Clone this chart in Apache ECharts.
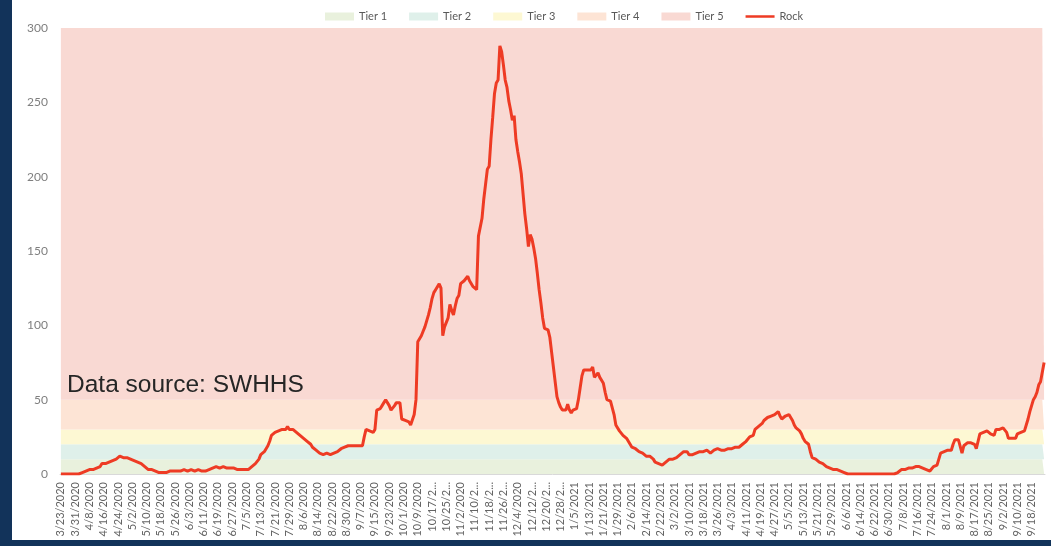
<!DOCTYPE html>
<html>
<head>
<meta charset="utf-8">
<script src="https://cdn.jsdelivr.net/npm/echarts@6/dist/echarts.min.js"></script>
<style>
  html, body { margin: 0; padding: 0; width: 1051px; height: 546px; background: #12335a; overflow: hidden; }
  #chart { position: absolute; left: 12px; top: 0; width: 1039px; height: 540px; background: #ffffff; }
</style>
</head>
<body>
<div id="chart"></div>
<script>
// Daily categories start date and count
const startDate = [2020, 3, 23];
const dayCount = 552;

// Tier band names, thicknesses (stacked) and colours
const tierNames = ['Tier 1', 'Tier 2', 'Tier 3', 'Tier 4', 'Tier 5'];
const tierThickness = [10, 10, 10, 20, 250];
const tierColors = ['#e9f1dd', '#dff0ea', '#fdf8d3', '#fde4d5', '#f9d9d3'];

// Y axis ticks
const yMin = 0, yMax = 300, yStep = 50;

// Rock values, one per day from 3/23/2020
const rock = [
  0,0,0,0,0,0,0,0,0,0,
  0,0,1,1,2,2,3,3,3,4,
  4,4,5,7,7,7,8,8,8,9,
  9,10,11,12,12,11,10,11,11,10,
  10,9,9,8,7,7,6,5,4,3,
  3,3,3,2,1,1,0,1,1,1,
  2,2,2,2,2,2,2,2,3,3,
  3,2,2,3,2,2,3,3,2,2,
  3,2,2,3,3,4,4,5,5,4,
  4,5,4,4,4,4,3,4,4,3,
  4,3,3,3,3,3,3,5,6,7,
  8,10,13,14,15,16,19,22,26,27,
  28,29,29,30,30,29,30,32,30,31,
  30,29,28,27,26,25,24,23,22,21,
  20,18,17,16,16,14,14,13,14,14,
  14,13,14,14,14,15,16,17,17,18,
  19,19,18,19,20,19,19,19,19,19,
  25,30,30,29,29,28,30,43,43,44,
  46,48,50,49,46,43,44,46,48,49,
  48,37,36,36,36,35,33,33,40,50,
  89,90,93,96,99,103,107,112,118,122,
  124,126,128,125,93,99,98,105,114,110,
  107,113,118,120,128,129,130,131,133,130,
  128,126,125,124,160,161,172,185,195,205,
  207,225,240,256,263,265,288,284,275,265,
  260,251,245,238,241,225,217,210,202,201,
  175,165,153,161,158,152,145,135,124,115,
  105,98,97,97,92,82,72,62,52,48,
  45,43,43,43,47,43,41,43,43,44,
  50,58,66,70,70,70,70,70,72,65,
  66,68,65,63,61,55,50,50,49,48,
  40,33,31,29,28,26,25,24,22,20,
  18,17,17,16,15,15,14,13,12,12,
  12,12,10,8,7,7,7,6,7,8,
  9,10,10,10,10,11,12,13,14,15,
  16,15,13,12,13,14,14,15,15,15,
  15,16,16,15,14,15,16,16,17,17,
  16,16,16,17,17,17,17,18,18,18,
  18,19,20,21,22,23,25,25,26,30,
  30,32,33,34,36,37,38,38,39,39,
  40,41,42,39,37,38,39,40,40,39,
  36,33,31,30,29,27,24,22,22,20,
  15,11,10,10,9,8,8,7,6,5,
  5,4,4,3,3,3,3,2,1,1,
  0,0,0,0,0,0,0,0,0,0,
  0,0,0,0,0,0,0,0,0,0,
  0,0,0,0,0,0,0,0,1,1,
  2,3,3,3,4,4,4,4,4,5,
  5,5,4,4,4,3,2,2,3,5,
  6,6,6,14,15,15,15,16,16,16,
  20,23,23,23,22,14,19,20,21,21,
  21,21,20,17,16,27,28,28,28,29,
  28,27,26,26,30,30,30,31,31,31,
  28,24,24,24,23,24,27,27,28,28,
  29,30,37,42,46,50,52,55,60,62,
  63,75
];

// Build the date categories
const categories = [];
for (let i = 0; i < dayCount; i++) {
  const d = new Date(Date.UTC(startDate[0], startDate[1] - 1, startDate[2] + i));
  categories.push((d.getUTCMonth() + 1) + '/' + d.getUTCDate() + '/' + d.getUTCFullYear());
}

const chart = echarts.init(document.getElementById('chart'), null, { renderer: 'canvas' });

const series = tierNames.map((name, k) => ({
  name: name,
  type: 'line',
  stack: 'tiers',
  symbol: 'none',
  silent: true,
  lineStyle: { width: 0 },
  itemStyle: { color: tierColors[k] },
  areaStyle: { color: tierColors[k], opacity: 1 },
  data: categories.map(() => tierThickness[k]),
  z: 1
}));
series.push({
  name: 'Rock',
  type: 'line',
  symbol: 'none',
  data: rock,
  lineStyle: { color: '#ee3b24', width: 3 },
  itemStyle: { color: '#ee3b24' },
  z: 5
});

chart.setOption({
  animation: false,
  legend: {
    top: 6,
    left: 308,
    itemWidth: 29,
    itemHeight: 8,
    itemGap: 22,
    textStyle: { fontFamily: 'Lato', fontSize: 11, color: '#595959' },
    data: tierNames.map(n => ({ name: n, icon: 'rect' })).concat([
      { name: 'Rock', icon: 'path://M0,0 L30,0 L30,2.6 L0,2.6 Z' }
    ])
  },
  grid: { left: 48, right: 6, top: 28, bottom: 66 },
  xAxis: {
    type: 'category',
    data: categories,
    boundaryGap: true,
    axisTick: { show: false },
    axisLine: { show: true, lineStyle: { color: '#d9d9d9', width: 1 } },
    axisLabel: {
      interval: 7,
      rotate: 90,
      margin: 8,
      fontFamily: 'Lato',
      fontSize: 11,
      color: '#646464',
      formatter: v => v.length > 9 ? v.slice(0, 7) + '...' : v
    },
    splitLine: { show: false }
  },
  yAxis: {
    type: 'value',
    min: yMin,
    max: yMax,
    interval: yStep,
    axisLine: { show: false },
    axisTick: { show: false },
    splitLine: { show: false },
    axisLabel: { fontFamily: 'Lato', fontSize: 12, color: '#7f7f7f', margin: 12 }
  },
  graphic: [{
    type: 'text',
    left: 55,
    top: 373,
    z: 10,
    style: {
      text: 'Data source: SWHHS',
      fontFamily: 'Liberation Sans',
      fontSize: 24.5,
      fill: '#262626'
    }
  }],
  series: series
});
</script>
</body>
</html>
